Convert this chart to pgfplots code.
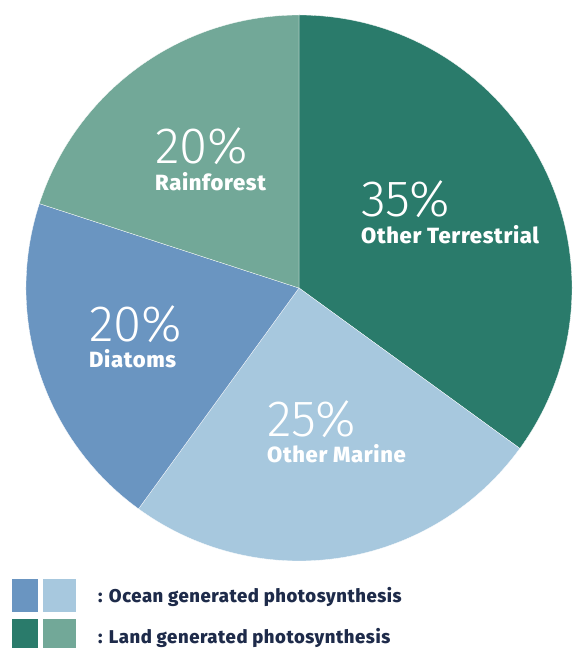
\documentclass[border=0pt]{standalone}
\usepackage{fontspec}
\setmainfont{Fira Sans}
\newfontfamily\lightfont{Fira Sans Light}
\newfontfamily\heavyfont{Fira Sans ExtraBold}[LetterSpace=3]
\usepackage{pgfplots}
\usepackage{pgfplotstable}
\pgfplotsset{compat=1.18}

\definecolor{terr}{HTML}{2A7B6B}
\definecolor{marine}{HTML}{A7C8DE}
\definecolor{diatom}{HTML}{6A95C1}
\definecolor{rain}{HTML}{72A898}
\definecolor{legtext}{HTML}{1E2B4A}

% slice, share (%), colour, label x, baseline of percent, baseline of name
\pgfplotstableread[col sep=comma]{
label,value,color,lx,py,ly
Other Terrestrial,35,terr,62,71,44
Other Marine,25,marine,-32,-149,-175
Diatoms,20,diatom,-210,-54,-80
Rainforest,20,rain,-144,124,97
}\piedata

\tikzset{
  pct/.style={anchor=base west, inner sep=0pt, text=white,
    font=\lightfont\fontsize{51}{51}\selectfont},
  lab/.style={anchor=base west, inner sep=0pt, text=white,
    font=\heavyfont\fontsize{22}{22}\selectfont},
  leg/.style={anchor=base west, inner sep=0pt, text=legtext,
    font=\heavyfont\fontsize{18.5}{18.5}\selectfont},
}

\begin{document}
\begin{tikzpicture}
\begin{axis}[
    x=1pt, y=1pt,
    scale only axis,
    xmin=-299, xmax=271,
    ymin=-360, ymax=288,
    hide axis,
    clip=false,
]
\path (rel axis cs:0,0) rectangle (rel axis cs:1,1);
\def\cum{0}
\pgfplotsforeachungrouped \i in {0,...,3}{
  \pgfplotstablegetelem{\i}{value}\of\piedata \let\val\pgfplotsretval
  \pgfplotstablegetelem{\i}{color}\of\piedata \let\col\pgfplotsretval
  \pgfmathsetmacro\startang{90-3.6*\cum}
  \pgfmathsetmacro\endang{\startang-3.6*\val}
  \pgfmathsetmacro\cum{\cum+\val}
  \edef\temp{\noexpand\fill[fill=\col, draw=white, line width=0.3pt]
    (axis cs:0,0) -- (axis cs:{273*cos(\startang)},{273*sin(\startang)})
    arc[start angle=\startang, end angle=\endang, radius=273pt] -- cycle;}
  \temp
}
\pgfplotsforeachungrouped \i in {0,...,3}{
  \pgfplotstablegetelem{\i}{value}\of\piedata \let\val\pgfplotsretval
  \pgfplotstablegetelem{\i}{label}\of\piedata \let\lab\pgfplotsretval
  \pgfplotstablegetelem{\i}{lx}\of\piedata \let\lx\pgfplotsretval
  \pgfplotstablegetelem{\i}{py}\of\piedata \let\py\pgfplotsretval
  \pgfplotstablegetelem{\i}{ly}\of\piedata \let\ly\pgfplotsretval
  \edef\temp{\noexpand\node[pct] at (axis cs:\lx,\py) {\val\noexpand\%};
    \noexpand\node[lab] at (axis cs:\lx,\ly) {\lab};}
  \temp
}
% legend
\fill[diatom] (axis cs:-287,-291) rectangle (axis cs:-261,-324);
\fill[marine] (axis cs:-256,-291) rectangle (axis cs:-223,-324);
\fill[terr] (axis cs:-287,-331) rectangle (axis cs:-261,-360);
\fill[rain] (axis cs:-256,-331) rectangle (axis cs:-223,-360);
\node[leg] at (axis cs:-201,-315) {: Ocean generated photosynthesis};
\node[leg] at (axis cs:-201,-355) {: Land generated photosynthesis};
\end{axis}
\end{tikzpicture}
\end{document}
